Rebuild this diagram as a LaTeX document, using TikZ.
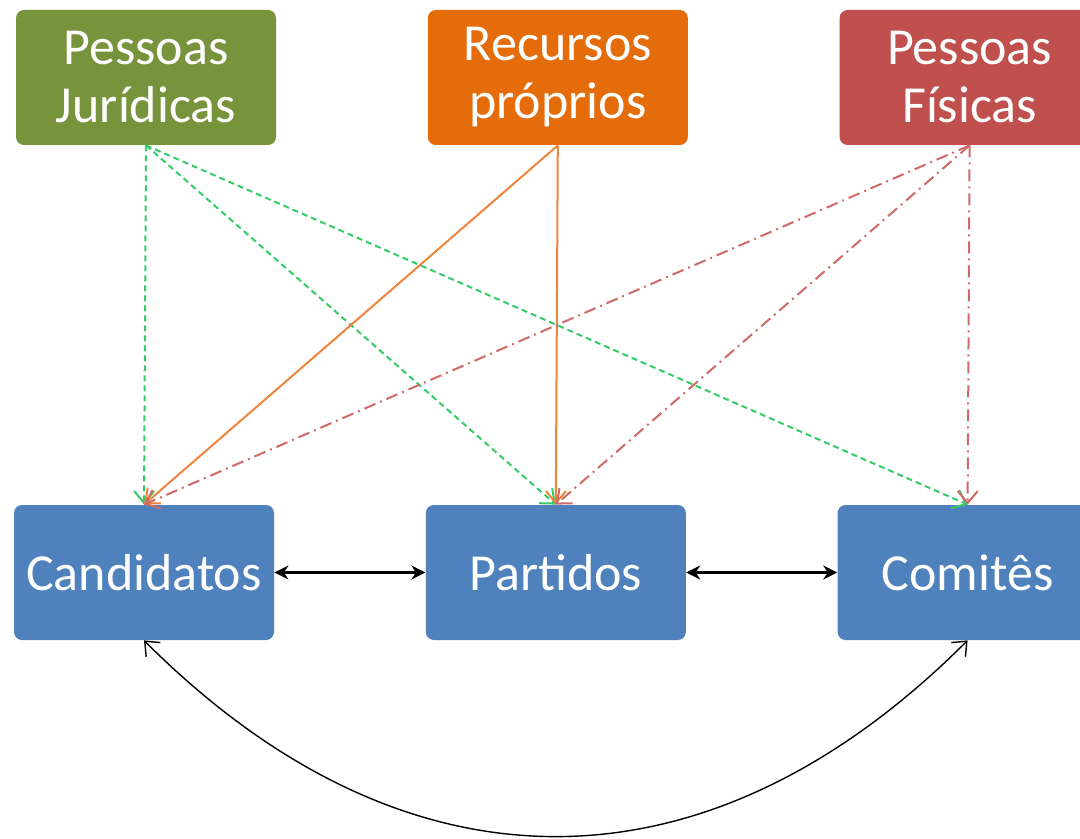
\documentclass[tikz,border=0pt]{standalone}
\usepackage{fontspec}
\setmainfont{Carlito}
\usetikzlibrary{arrows.meta,chains,positioning}
\definecolor{verdepj}{HTML}{77933C}
\definecolor{laranja}{HTML}{E46C0A}
\definecolor{vermelho}{HTML}{C0504D}
\definecolor{azul}{HTML}{4F81BD}
\definecolor{verdeseta}{HTML}{33CC66}
\definecolor{laranjaseta}{HTML}{F0843C}
\definecolor{vermelhoseta}{HTML}{D06A68}

\tikzset{
  caixa/.style={rounded corners=4pt,text=white,align=center,minimum width=130pt,
    minimum height=67.5pt,inner sep=2pt,font=\fontsize{26}{29}\selectfont},
  fluxopj/.style={verdeseta,line width=1pt,dash pattern=on 3pt off 2pt,
    -{Straight Barb[length=6pt,width=10pt]}},
  fluxorp/.style={laranjaseta,line width=1pt,-{Straight Barb[length=6pt,width=10pt]}},
  fluxopf/.style={vermelhoseta,line width=1pt,dash pattern=on 6pt off 2.5pt on 1pt off 2.5pt,
    -{Straight Barb[length=6pt,width=10pt]}},
  dupla/.style={black,line width=1.1pt,{Stealth[length=7pt,width=7pt]}-{Stealth[length=7pt,width=7pt]}},
  curva/.style={black,line width=0.7pt,{Straight Barb[length=6pt,width=10pt]}-{Straight Barb[length=6pt,width=10pt]}}
}

\begin{document}
\begin{tikzpicture}

\useasboundingbox (0,0) rectangle (540pt,-419.5pt);

% origens dos recursos
\begin{scope}[shift={(73pt,-38.75pt)},start chain=going right,node distance=75.5pt]
\def\fontes{pj/verdepj/{Pessoas\\Jurídicas},rp/laranja/{Recursos\\próprios},pf/vermelho/{Pessoas\\Físicas}}
\foreach \nome / \cor / \texto in \fontes
  \node [on chain,caixa,fill=\cor] (\nome) {\texto};
\end{scope}

% destinos
\begin{scope}[shift={(72pt,-286.25pt)},start chain=going right,node distance=75.5pt]
\def\destinos{cand/{Candidatos},part/{Partidos},com/{Comitês}}
\foreach \nome / \texto in \destinos
  \node [on chain,caixa,fill=azul] (\nome) {\texto};
\end{scope}

\foreach \t in {cand,part,com}
  \draw[fluxopj] (pj.south) -- (\t.north);
\foreach \t in {cand,part}
  \draw[fluxorp] (rp.south) -- (\t.north);
\foreach \t in {cand,part,com}
  \draw[fluxopf] (pf.south) -- (\t.north);

\draw[dupla] (cand.east) -- (part.west);
\draw[dupla] (part.east) -- (com.west);
\draw[curva] (cand.south) to[bend right=45,looseness=1.15] (com.south);

\end{tikzpicture}
\end{document}
